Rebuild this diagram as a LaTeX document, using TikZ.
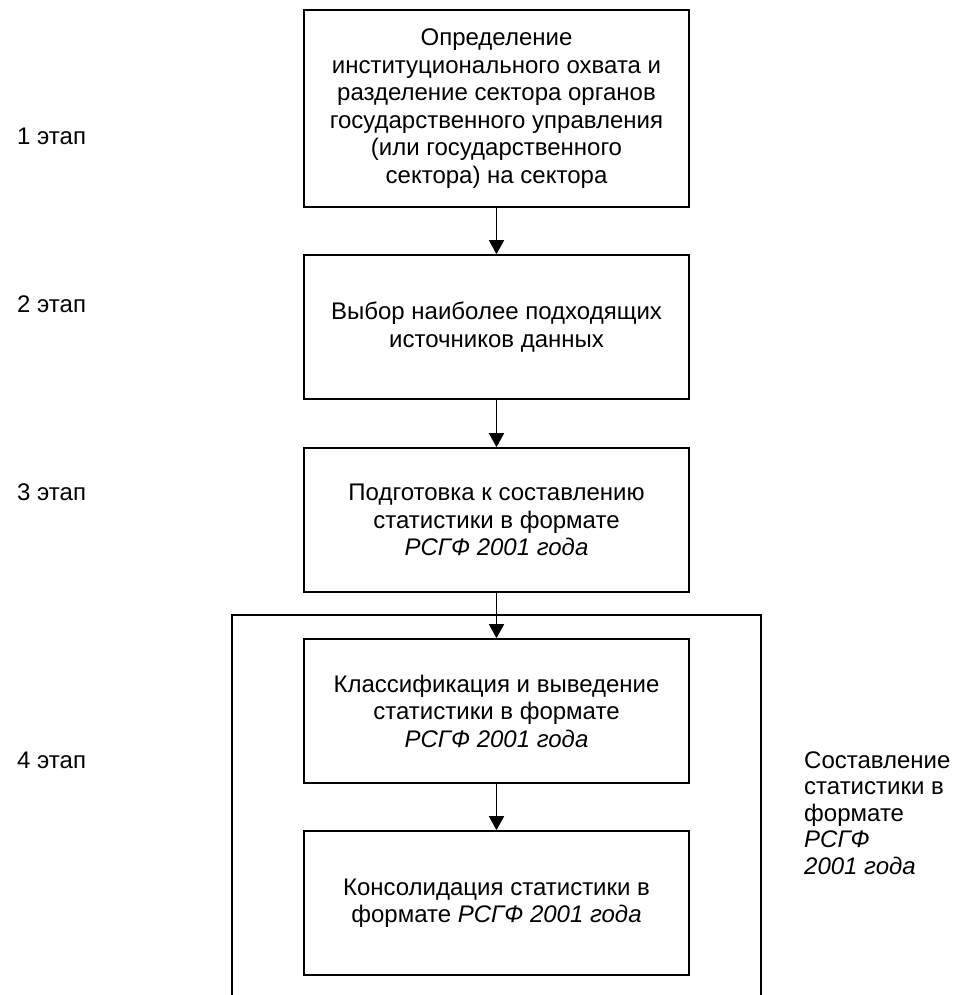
\documentclass[tikz,border=0pt]{standalone}
\usepackage{fontspec}
\setmainfont{Liberation Sans}
\usetikzlibrary{arrows.meta}
\tikzset{
  stagebox/.style={draw=black, line width=1.6pt, minimum width=385pt, inner sep=0pt,
    align=center, font=\fontsize{24}{27.5}\selectfont},
  flowarrow/.style={line width=1.4pt, -{Triangle[width=15pt,length=14pt]}},
  stagelabel/.style={anchor=base west, inner sep=0pt, font=\fontsize{24}{27.5}\selectfont},
  framebox/.style={line width=1.6pt}
}
\begin{document}
\begin{tikzpicture}[x=1pt,y=-1pt]
\useasboundingbox (0,0) rectangle (953,995);
\node[stagebox, minimum height=197pt] (b1) at (496.5,108.5)
  {Определение\\институционального охвата и\\разделение сектора органов\\государственного управления\\(или государственного\\сектора) на сектора};
\node[stagebox, minimum height=144pt] (b2) at (496.5,327)
  {Выбор наиболее подходящих\\источников данных};
\node[stagebox, minimum height=144pt] (b3) at (496.5,520)
  {Подготовка к составлению\\статистики в формате\\\textit{РСГФ 2001 года}};
\node[stagebox, minimum height=144pt] (b4) at (496.5,711)
  {Классификация и выведение\\статистики в формате\\\textit{РСГФ 2001 года}};
\node[stagebox, minimum height=144pt] (b5) at (496.5,903)
  {Консолидация статистики в\\формате \textit{РСГФ 2001 года}};
\coordinate (olb) at (232,995);
\coordinate (olt) at (232,615);
\coordinate (ort) at (761,615);
\coordinate (orb) at (761,995);
\draw[framebox] (olb) -- (olt) -- (ort) -- (orb);
\draw[flowarrow] (b1) -- (b2);
\draw[flowarrow] (b2) -- (b3);
\draw[flowarrow] (b3) -- (b4);
\draw[flowarrow] (b4) -- (b5);
\node[stagelabel] (l1) at (17,144.5) {1 этап};
\node[stagelabel] (l2) at (17,312.5) {2 этап};
\node[stagelabel] (l3) at (17,500) {3 этап};
\node[stagelabel] (l4) at (17,768) {4 этап};
\node[anchor=base west, inner sep=0pt, align=left, font=\fontsize{24}{26.5}\selectfont] (rt) at (804,874)
  {Составление\\статистики в\\формате\\\textit{РСГФ}\\\textit{2001 года}};
\end{tikzpicture}
\end{document}
